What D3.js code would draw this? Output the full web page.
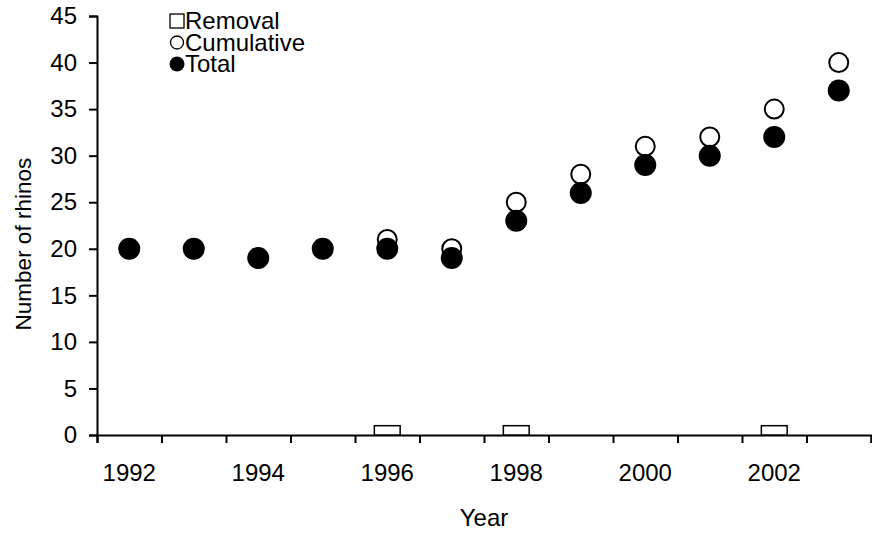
<!DOCTYPE html>
<html>
<head>
<meta charset="utf-8">
<script src="https://cdn.jsdelivr.net/npm/d3@7"></script>
<style>
  body { margin: 0; background: #fff; }
  text { font-family: "Liberation Sans", Arial, sans-serif; fill: #000; }
</style>
</head>
<body>
<div class="chart"></div>
<script>
const years = [1992, 1993, 1994, 1995, 1996, 1997, 1998, 1999, 2000, 2001, 2002, 2003];
const labelYears = [1992, 1994, 1996, 1998, 2000, 2002];
const total = [20, 20, 19, 20, 20, 19, 23, 26, 29, 30, 32, 37];
const cumulative = [20, 20, 19, 20, 21, 20, 25, 28, 31, 32, 35, 40];
const removal = [0, 0, 0, 0, 1, 0, 1, 0, 0, 0, 1, 0];
const yTicks = [0, 5, 10, 15, 20, 25, 30, 35, 40, 45];
const legendItems = ['Removal', 'Cumulative', 'Total'];

const width = 872, height = 537;
const margin = {top: 16, right: 1, bottom: 102, left: 97};
const fs = 24;

var svg = d3.select('.chart')
            .append('svg')
            .attr('width', width)
            .attr('height', height);

var x = d3.scaleBand()
          .domain(years)
          .range([margin.left, width - margin.right])
          .paddingInner(0);

var xEdge = d3.scaleLinear()
              .domain([0, years.length])
              .range([margin.left, width - margin.right]);

var y = d3.scaleLinear()
          .domain([0, 45])
          .range([height - margin.bottom, margin.top]);

// y axis
svg.append('g')
   .attr('class', 'axis y-axis')
   .attr('transform', `translate(${margin.left},0)`)
   .call(d3.axisLeft(y).tickValues(yTicks).tickSize(8).tickPadding(12));

// x axis: tick marks at the category edges
svg.append('g')
   .attr('class', 'axis x-axis')
   .attr('transform', `translate(0,${y(0)})`)
   .call(d3.axisBottom(xEdge).tickValues(d3.range(years.length + 1)).tickFormat('').tickSize(8));

// x labels every other year, centred in the band
svg.append('g')
   .attr('class', 'axis x-labels')
   .attr('transform', `translate(0,${y(0)})`)
   .call(d3.axisBottom(x).tickSize(0).tickPadding(29)
           .tickFormat(d => labelYears.includes(d) ? d : ''))
   .call(g => g.select('.domain').remove());

svg.selectAll('.axis path, .axis line')
   .attr('stroke', '#000')
   .attr('stroke-width', 2);

svg.selectAll('.axis text')
   .attr('fill', '#000')
   .attr('font-size', fs)
   .attr('font-family', '"Liberation Sans", Arial, sans-serif');

// removal bars
var bw = x.bandwidth() * 0.4;
svg.selectAll('rect.removal')
   .data(years.map((d, i) => ({year: d, v: removal[i]})).filter(d => d.v > 0))
   .enter()
   .append('rect')
   .attr('class', 'removal')
   .attr('x', d => x(d.year) + x.bandwidth() / 2 - bw / 2)
   .attr('y', d => y(d.v))
   .attr('width', bw)
   .attr('height', d => y(0) - y(d.v))
   .attr('fill', '#fff')
   .attr('stroke', '#000')
   .attr('stroke-width', 1.5);

// cumulative (open circles)
svg.selectAll('circle.cum')
   .data(years.map((d, i) => ({year: d, v: cumulative[i]})))
   .enter()
   .append('circle')
   .attr('class', 'cum')
   .attr('cx', d => x(d.year) + x.bandwidth() / 2)
   .attr('cy', d => y(d.v))
   .attr('r', 9.5)
   .attr('fill', '#fff')
   .attr('stroke', '#000')
   .attr('stroke-width', 2);

// total (filled circles)
svg.selectAll('circle.tot')
   .data(years.map((d, i) => ({year: d, v: total[i]})))
   .enter()
   .append('circle')
   .attr('class', 'tot')
   .attr('cx', d => x(d.year) + x.bandwidth() / 2)
   .attr('cy', d => y(d.v))
   .attr('r', 11)
   .attr('fill', '#000');

// axis titles
svg.append('text')
   .attr('x', x(1997) + x.bandwidth())
   .attr('y', 526)
   .attr('text-anchor', 'middle')
   .attr('font-size', fs)
   .text('Year');

svg.append('text')
   .attr('transform', `translate(31,${y(20.5)}) rotate(-90)`)
   .attr('text-anchor', 'middle')
   .attr('font-size', 22.5)
   .text('Number of rhinos');

// legend
var legend = svg.append('g').attr('transform', 'translate(177,0)');
legend.append('rect')
      .attr('x', -7).attr('y', 14).attr('width', 14).attr('height', 14)
      .attr('fill', '#fff').attr('stroke', '#000').attr('stroke-width', 1.3);
legend.append('circle')
      .attr('cx', 0).attr('cy', 42.5).attr('r', 6.5)
      .attr('fill', '#fff').attr('stroke', '#000').attr('stroke-width', 1.3);
legend.append('circle')
      .attr('cx', 0).attr('cy', 64).attr('r', 7.5)
      .attr('fill', '#000');
legend.selectAll('text')
      .data(legendItems)
      .enter()
      .append('text')
      .attr('x', 8)
      .attr('y', (d, i) => 29 + i * 21.5)
      .attr('font-size', fs)
      .text(d => d);
</script>
</body>
</html>
